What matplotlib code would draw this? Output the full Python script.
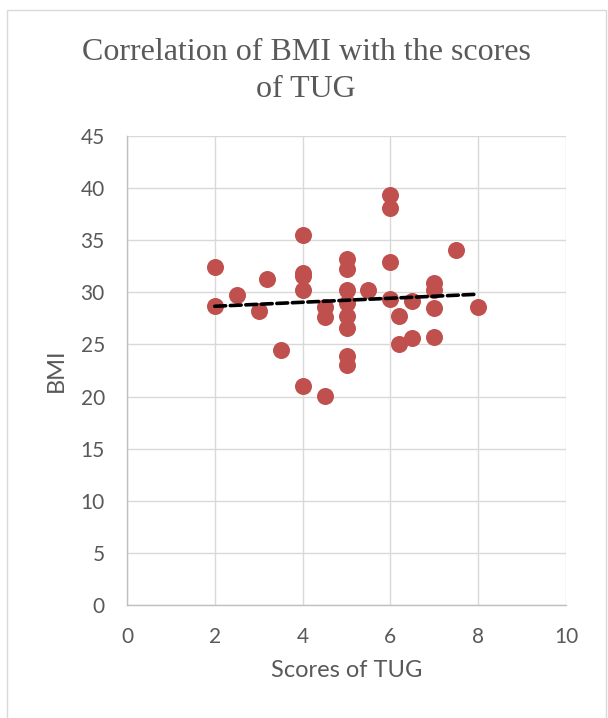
import numpy as np
import matplotlib
matplotlib.use('Agg')
import matplotlib.pyplot as plt
from matplotlib.patches import Rectangle

# scores of TUG vs BMI
tug = [2, 2, 2.5, 3, 3.2, 3.5,
       4, 4, 4, 4, 4,
       4.5, 4.5, 4.5,
       5, 5, 5, 5, 5, 5, 5, 5,
       5.5,
       6, 6, 6, 6,
       6.2, 6.2,
       6.5, 6.5,
       7, 7, 7, 7,
       7.5, 8]
bmi = [32.4, 28.7, 29.7, 28.2, 31.3, 24.5,
       35.5, 31.9, 31.6, 30.2, 21.0,
       28.6, 27.6, 20.1,
       33.2, 32.2, 30.2, 29.0, 27.7, 26.6, 23.9, 23.0,
       30.2,
       39.3, 38.1, 32.9, 29.4,
       27.7, 25.0,
       29.2, 25.6,
       30.9, 30.2, 28.5, 25.7,
       34.1, 28.6]

xticks = [0, 2, 4, 6, 8, 10]
yticks = [0, 5, 10, 15, 20, 25, 30, 35, 40, 45]

txt = '#595959'
grid = '#d9d9d9'

fig = plt.figure(figsize=(6.08, 7.18), dpi=100)
fig.patches.append(Rectangle((7 / 608, -0.01), 599 / 608, 1.01 - 10 / 718,
                             transform=fig.transFigure, fill=False,
                             edgecolor=grid, lw=1.0))

ax = fig.add_axes([127 / 608, 1 - 605 / 718, 439 / 608, 469 / 718])

ax.scatter(tug, bmi, s=150, color='#c0504d', zorder=3, linewidths=0)

# linear trendline
k, b = np.polyfit(tug, bmi, 1)
xs = np.array([min(tug), max(tug)])
ax.plot(xs, k * xs + b, color='black', lw=2.6, ls=(0, (3.0, 1.3)),
        dash_capstyle='round', zorder=4)

ax.set_xlim(0, 10)
ax.set_ylim(0, 45)
ax.set_xticks(xticks)
ax.set_yticks(yticks)
ax.grid(True, color=grid, lw=1.0)
ax.set_axisbelow(True)
for s in ['top', 'right']:
    ax.spines[s].set_visible(False)
for s in ['left', 'bottom']:
    ax.spines[s].set_color('#bfbfbf')
    ax.spines[s].set_linewidth(1.0)
ax.tick_params(length=0, labelsize=15, labelcolor=txt, pad=16)
for lab in ax.get_xticklabels() + ax.get_yticklabels():
    lab.set_family('Lato')

ax.set_xlabel('Scores of TUG', fontsize=17, color=txt, family='Lato', labelpad=9)
ax.set_ylabel('BMI', fontsize=17, color=txt, family='Lato', labelpad=10)

fig.text(306 / 608, 1 - 71 / 718, 'Correlation of BMI with the scores\nof TUG',
         ha='center', va='center', fontsize=23, color=txt,
         family='Liberation Serif', linespacing=1.32)

fig.savefig('out.png', dpi=100)
